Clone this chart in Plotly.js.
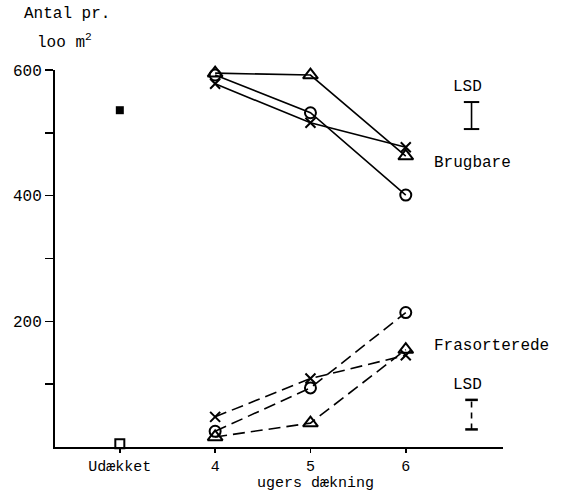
<!DOCTYPE html>
<html>
<head>
<meta charset="utf-8">
<script src="https://cdn.plot.ly/plotly-3.0.1.min.js"></script>
<style>html,body{margin:0;padding:0;background:#fff}</style>
</head>
<body>
<div id="chart" style="width:563px;height:493px"></div>
<script>
// x categories: weeks of covering (Udækket = uncovered, placed at 3)
const weeks = [4, 5, 6];
const tickVals = [3, 4, 5, 6];
const tickLabels = ['Udækket', '4', '5', '6'];
const yTickVals = [200, 400, 600];
const yTickLabels = ['200', '400', '600'];

// Brugbare (usable), per 100 m2
const brugCircle = [592, 532, 401];
const brugTriangle = [595, 592, 463];
const brugX = [578, 516, 477];

// Frasorterede (discarded)
const frasCircle = [25, 94, 214];
const frasTriangle = [16, 38, 155];
const frasX = [48, 109, 146];

// Udækket (uncovered)
const udX = [3];
const udBrug = [536];
const udFras = [5];

// LSD bars
const lsdX = [6.69, 6.69];
const lsdBrug = [506, 549];
const lsdFras = [28, 75];

const F = 'Liberation Mono, DejaVu Sans Mono, monospace';
const black = '#000';

function series(y, symbol, dash, size) {
  return {
    x: weeks, y: y, type: 'scatter', mode: 'lines+markers',
    line: {color: black, width: 1.6, dash: dash},
    marker: {symbol: symbol, size: size, color: black, line: {color: black, width: 2}},
    cliponaxis: false, showlegend: false, hoverinfo: 'skip'
  };
}

const traces = [
  series(brugCircle, 'circle-open', 'solid', 11),
  series(brugTriangle, 'triangle-up-open', 'solid', 13),
  series(brugX, 'x-thin-open', 'solid', 10),
  series(frasCircle, 'circle-open', '12px,6px', 11),
  series(frasTriangle, 'triangle-up-open', '12px,6px', 13),
  series(frasX, 'x-thin-open', '12px,6px', 10),
  {x: udX, y: udBrug, type: 'scatter', mode: 'markers',
   marker: {symbol: 'square', size: 8, color: black}, cliponaxis: false, showlegend: false},
  {x: udX, y: udFras, type: 'scatter', mode: 'markers',
   marker: {symbol: 'square-open', size: 9, color: black, line: {width: 2, color: black}}, cliponaxis: false, showlegend: false},
  {x: lsdX, y: lsdBrug, type: 'scatter', mode: 'lines+markers',
   line: {color: black, width: 1.6},
   marker: {symbol: 'line-ew-open', size: 11, color: black, line: {width: 2, color: black}},
   cliponaxis: false, showlegend: false},
  {x: lsdX, y: lsdFras, type: 'scatter', mode: 'lines+markers',
   line: {color: black, width: 1.6, dash: '6px,5px'},
   marker: {symbol: 'line-ew-open', size: 9, color: black, line: {width: 2.5, color: black}},
   cliponaxis: false, showlegend: false}
];

const layout = {
  width: 563, height: 493,
  margin: {l: 55, r: 60, t: 70, b: 46},
  paper_bgcolor: '#fff', plot_bgcolor: '#fff',
  font: {family: F, size: 16, color: black},
  showlegend: false,
  xaxis: {
    range: [2.32, 7.02], showgrid: false, zeroline: false,
    showline: true, linecolor: black, linewidth: 2,
    tickmode: 'array', tickvals: tickVals, ticktext: tickLabels,
    ticks: 'outside', ticklen: 4, tickwidth: 1.5, tickcolor: black,
    tickfont: {family: F, size: 15}
  },
  yaxis: {
    range: [0, 600], showgrid: false, zeroline: false,
    showline: true, linecolor: black, linewidth: 2,
    tickmode: 'array', tickvals: yTickVals, ticktext: yTickLabels,
    ticks: 'outside', ticklen: 8, tickwidth: 1.5, tickcolor: black,
    tickfont: {family: F, size: 16},
    minor: {tick0: 100, dtick: 200, ticks: 'outside', ticklen: 8, tickwidth: 1.5, tickcolor: black, showgrid: false}
  },
  annotations: [
    {text: 'Antal pr.', xref: 'paper', yref: 'paper', x: (67 - 55) / 448, y: (447 - 14) / 377,
     xanchor: 'center', yanchor: 'middle', showarrow: false, font: {family: F, size: 16}},
    {text: 'loo m<sup>2</sup>', xref: 'paper', yref: 'paper', x: (64 - 55) / 448, y: (447 - 41) / 377,
     xanchor: 'center', yanchor: 'middle', showarrow: false, font: {family: F, size: 16}},
    {text: 'LSD', xref: 'x', yref: 'y', x: 6.65, y: 573, xanchor: 'center', yanchor: 'middle',
     showarrow: false, font: {family: F, size: 16}},
    {text: 'Brugbare', xref: 'x', yref: 'y', x: 6.27, y: 452, xanchor: 'left', yanchor: 'middle',
     showarrow: false, font: {family: F, size: 16}},
    {text: 'Frasorterede', xref: 'x', yref: 'y', x: 6.27, y: 161, xanchor: 'left', yanchor: 'middle',
     showarrow: false, font: {family: F, size: 16}},
    {text: 'LSD', xref: 'x', yref: 'y', x: 6.65, y: 99, xanchor: 'center', yanchor: 'middle',
     showarrow: false, font: {family: F, size: 16}},
    {text: 'ugers dækning', xref: 'paper', yref: 'paper', x: (315 - 55) / 448, y: -36 / 377,
     xanchor: 'center', yanchor: 'middle', showarrow: false, font: {family: F, size: 15}}
  ]
};

Plotly.newPlot('chart', traces, layout, {displayModeBar: false, staticPlot: true});
</script>
</body>
</html>
